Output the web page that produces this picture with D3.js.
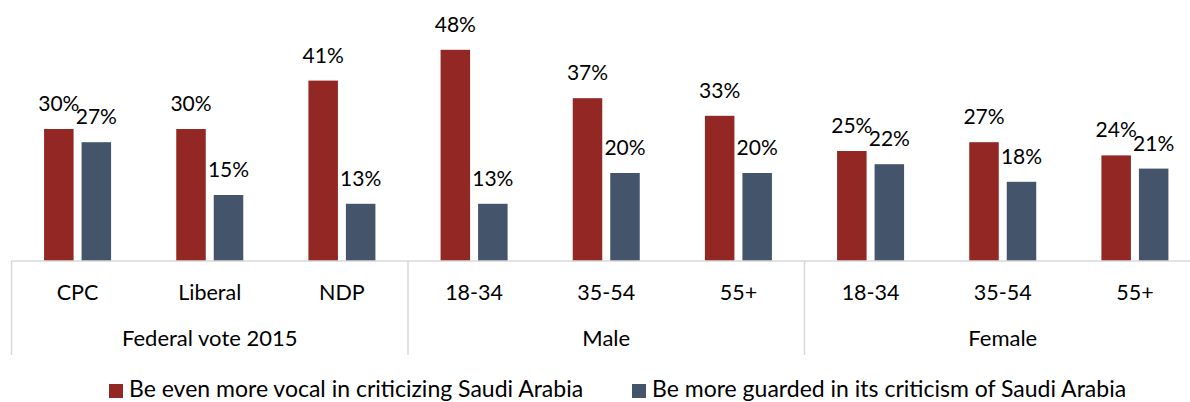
<!DOCTYPE html>
<html><head><meta charset="utf-8">
<script src="https://cdn.jsdelivr.net/npm/d3@7"></script>
<style>
html,body{margin:0;padding:0;background:#fff;}
svg{display:block;font-family:Lato,"Open Sans",sans-serif;}
</style></head>
<body>
<svg id="c" width="1190" height="402"></svg>
<script>
const categories = ["CPC","Liberal","NDP","18-34","35-54","55+","18-34","35-54","55+"];
const groups = ["Federal vote 2015","Male","Female"];
const groupSizes = [3,3,3];
const seriesNames = ["Be even more vocal in criticizing Saudi Arabia","Be more guarded in its criticism of Saudi Arabia"];
const vocal = [30,30,41,48,37,33,25,27,24];
const guarded = [27,15,13,13,20,20,22,18,21];
const colors = ["#922724","#44546A"];

const svg = d3.select("#c");
const left = 11.5, right = 1201, base = 261;
const idx = categories.map((d,i)=>i);
const x = d3.scaleBand().domain(idx).range([left,right]).padding(0);
const step = x.bandwidth();
const xs = d3.scaleBand().domain([0,1]).range([step/2-33.5, step/2+33.5]).paddingInner(0.2133);
const y = d3.scaleLinear().domain([0,50]).range([base, base-220]);

const series = [vocal, guarded];
series.forEach((vals,s)=>{
  const g = svg.append("g");
  g.selectAll("rect").data(vals).join("rect")
    .attr("x",(d,i)=>x(i)+xs(s))
    .attr("y",d=>y(d))
    .attr("width",xs.bandwidth())
    .attr("height",d=>base-y(d))
    .attr("fill",colors[s]);
  g.selectAll("text").data(vals).join("text")
    .attr("x",(d,i)=>x(i)+xs(s)+xs.bandwidth()/2)
    .attr("y",d=>y(d)-18)
    .attr("text-anchor","middle")
    .attr("font-size",21)
    .attr("fill","#000")
    .text(d=>d+"%");
});

// axis line
svg.append("line").attr("x1",left).attr("x2",right).attr("y1",base).attr("y2",base)
  .attr("stroke","#d9d9d9").attr("stroke-width",1.5);
// group separators
let acc = 0;
const bounds = [0];
groupSizes.forEach(n=>{acc+=n;bounds.push(acc);});
bounds.forEach(b=>{
  const xx = b<categories.length ? x(b) : right;
  svg.append("line").attr("x1",xx).attr("x2",xx).attr("y1",base).attr("y2",355)
    .attr("stroke","#d9d9d9").attr("stroke-width",1.5);
});
// category labels
svg.append("g").selectAll("text").data(categories).join("text")
  .attr("x",(d,i)=>x(i)+step/2).attr("y",300)
  .attr("text-anchor","middle").attr("font-size",21.5).attr("fill","#000")
  .text(d=>d);
// group labels
svg.append("g").selectAll("text").data(groups).join("text")
  .attr("x",(d,i)=>{const a=x(bounds[i]); const b=bounds[i+1]<categories.length?x(bounds[i+1]):right; return (a+b)/2;})
  .attr("y",346)
  .attr("text-anchor","middle").attr("font-size",22).attr("fill","#000")
  .text(d=>d);
// legend
const legX = [109,632];
seriesNames.forEach((n,i)=>{
  svg.append("rect").attr("x",legX[i]).attr("y",384).attr("width",14).attr("height",14).attr("fill",colors[i]);
  svg.append("text").attr("x",legX[i]+20).attr("y",397).attr("font-size",23).attr("fill","#000").text(n);
});
</script>
</body></html>
